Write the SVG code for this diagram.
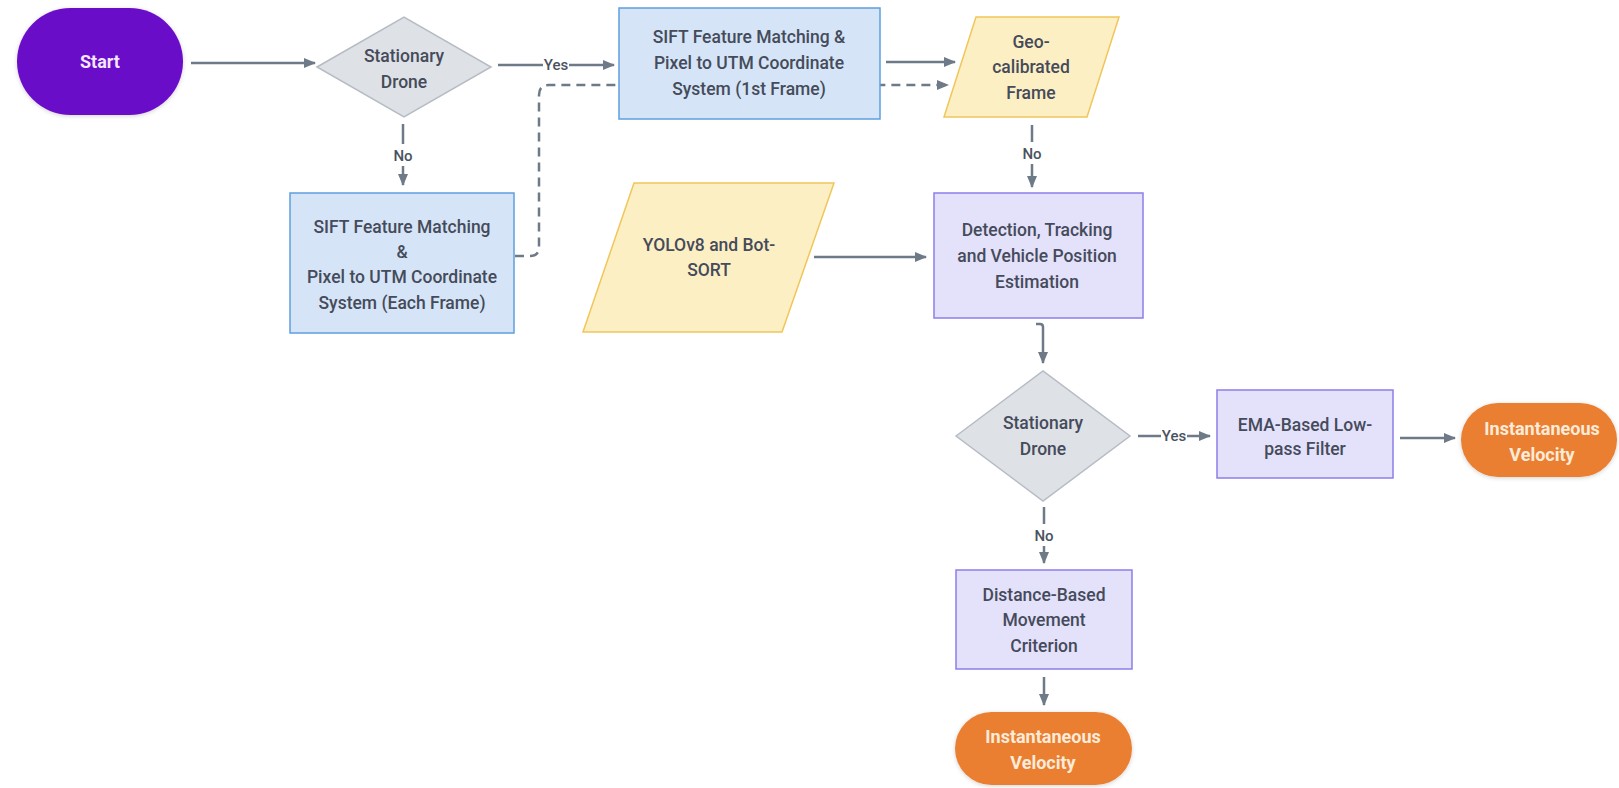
<svg xmlns="http://www.w3.org/2000/svg" width="1619" height="788" viewBox="0 0 1619 788">
<style>
  text { font-family: Roboto, "Liberation Sans", "DejaVu Sans", sans-serif; font-size: 17.5px; font-weight: 500; fill: #454B5A; text-anchor: middle; }
  .blue { fill: #D5E5F7; stroke: #5E9FE0; stroke-width: 1.5; }
  .yellow { fill: #FDEFC4; stroke: #F0C65A; stroke-width: 1.5; }
  .violet { fill: #E4E1FB; stroke: #8C7EEA; stroke-width: 1.5; }
  .gray { fill: #DEE1E6; stroke: #B6BCC4; stroke-width: 1.5; }
  .term-text { font-weight: bold; font-size: 18px; }
  .conn { fill: none; stroke: #6E7A87; stroke-width: 2.5; }
  .dash { stroke-dasharray: 9 6; }
  .lbl { font-size: 15px; fill: #4A5260; }
</style>
<defs>
  <marker id="arr" markerUnits="userSpaceOnUse" markerWidth="12" markerHeight="12" viewBox="0 0 12 12" refX="11" refY="6" orient="auto">
    <path d="M0,1 L12,6 L0,11 Z" fill="#6E7A87"/>
  </marker>
  <filter id="glow" x="-20%" y="-20%" width="140%" height="140%">
    <feDropShadow dx="0" dy="1" stdDeviation="2" flood-color="#000" flood-opacity="0.18"/>
  </filter>
</defs>
<rect width="1619" height="788" fill="#FFFFFF"/>

<g id="connectors">
  <path class="conn" d="M191,63 H315" marker-end="url(#arr)"/>
  <path class="conn" d="M498,65 H614" marker-end="url(#arr)"/>
  <path class="conn" d="M403,124 V185" marker-end="url(#arr)"/>
  <path class="conn dash" d="M515,256 H530 Q539,256 539,247 V95 Q539,85 549,85 H948" marker-end="url(#arr)"/>
  <path class="conn" d="M886,62 H955" marker-end="url(#arr)"/>
  <path class="conn" d="M1032,125 V187" marker-end="url(#arr)"/>
  <path class="conn" d="M814,257 H926" marker-end="url(#arr)"/>
  <path class="conn" d="M1036,324 H1040 Q1043,324 1043,327 V363" marker-end="url(#arr)"/>
  <path class="conn" d="M1138,436 H1210" marker-end="url(#arr)"/>
  <path class="conn" d="M1400,438 H1455" marker-end="url(#arr)"/>
  <path class="conn" d="M1044,507 V563" marker-end="url(#arr)"/>
  <path class="conn" d="M1044,677 V705" marker-end="url(#arr)"/>
  <rect x="543" y="55" width="26" height="20" fill="#FFFFFF"/>
  <text class="lbl" x="556" y="70">Yes</text>
  <rect x="393" y="144" width="20" height="22" fill="#FFFFFF"/>
  <text class="lbl" x="403" y="161">No</text>
  <rect x="1022" y="142" width="20" height="22" fill="#FFFFFF"/>
  <text class="lbl" x="1032" y="159">No</text>
  <rect x="1161" y="426" width="26" height="20" fill="#FFFFFF"/>
  <text class="lbl" x="1174" y="441">Yes</text>
  <rect x="1034" y="524" width="20" height="22" fill="#FFFFFF"/>
  <text class="lbl" x="1044" y="541">No</text>
</g>

<g id="start">
  <rect x="17" y="8" width="166" height="107" rx="53.5" fill="#6A0DC8" filter="url(#glow)"/>
  <text class="term-text" x="100" y="68" style="fill:#F3E6FF">Start</text>
</g>

<g id="decision1">
  <polygon class="gray" points="317,67 404,17 491,67 404,117"/>
  <text x="404" y="62">Stationary</text>
  <text x="404" y="88">Drone</text>
</g>

<g id="sift-first">
  <rect class="blue" x="619" y="8" width="261" height="111"/>
  <text x="749" y="43">SIFT Feature Matching &amp;</text>
  <text x="749" y="69">Pixel to UTM Coordinate</text>
  <text x="749" y="95">System (1st Frame)</text>
</g>

<g id="sift-each">
  <rect class="blue" x="290" y="193" width="224" height="140"/>
  <text x="402" y="233">SIFT Feature Matching</text>
  <text x="402" y="258">&amp;</text>
  <text x="402" y="283">Pixel to UTM Coordinate</text>
  <text x="402" y="309">System (Each Frame)</text>
</g>

<g id="geo-frame">
  <polygon class="yellow" points="976,17 1119,17 1087,117 944,117"/>
  <text x="1031" y="48">Geo-</text>
  <text x="1031" y="73">calibrated</text>
  <text x="1031" y="99">Frame</text>
</g>

<g id="yolo">
  <polygon class="yellow" points="634,183 834,183 782,332 583,332"/>
  <text x="709" y="251">YOLOv8 and Bot-</text>
  <text x="709" y="276">SORT</text>
</g>

<g id="detection">
  <rect class="violet" x="934" y="193" width="209" height="125"/>
  <text x="1037" y="236">Detection, Tracking</text>
  <text x="1037" y="262">and Vehicle Position</text>
  <text x="1037" y="288">Estimation</text>
</g>

<g id="decision2">
  <polygon class="gray" points="956,436 1043,371 1130,436 1043,501"/>
  <text x="1043" y="429">Stationary</text>
  <text x="1043" y="455">Drone</text>
</g>

<g id="ema">
  <rect class="violet" x="1217" y="390" width="176" height="88"/>
  <text x="1305" y="431">EMA-Based Low-</text>
  <text x="1305" y="455">pass Filter</text>
</g>

<g id="velocity1">
  <rect x="1461" y="403" width="156" height="74" rx="37" fill="#EA7F33" filter="url(#glow)"/>
  <text class="term-text" x="1542" y="435" style="fill:#FCEBD8">Instantaneous</text>
  <text class="term-text" x="1542" y="461" style="fill:#FCEBD8">Velocity</text>
</g>

<g id="distance">
  <rect class="violet" x="956" y="570" width="176" height="99"/>
  <text x="1044" y="601">Distance-Based</text>
  <text x="1044" y="626">Movement</text>
  <text x="1044" y="652">Criterion</text>
</g>

<g id="velocity2">
  <rect x="955" y="712" width="177" height="73" rx="36.5" fill="#EA7F33" filter="url(#glow)"/>
  <text class="term-text" x="1043" y="743" style="fill:#FCEBD8">Instantaneous</text>
  <text class="term-text" x="1043" y="769" style="fill:#FCEBD8">Velocity</text>
</g>
</svg>
